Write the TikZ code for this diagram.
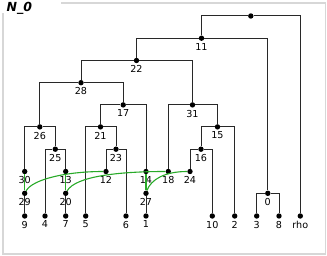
\documentclass[tikz,border=0pt]{standalone}
\usepackage{fontspec}
\setmainfont{DejaVu Sans}
\usetikzlibrary{positioning}

\definecolor{hybgreen}{RGB}{40,170,40}
\definecolor{framegray}{RGB}{215,215,215}
\definecolor{edgegray}{RGB}{40,40,40}

\begin{document}
\begin{tikzpicture}[x=1pt, y=-1pt,
  vtx/.style={circle, fill=black, inner sep=0pt, minimum size=5.4pt},
  every label/.style={font=\fontsize{9.6}{10}\selectfont, inner sep=0.3pt},
  label distance=1.6pt,
  edge/.style={draw=edgegray, line width=1pt},
  hyb/.style={draw=hybgreen, line width=1.1pt}]
\useasboundingbox (0,0) rectangle (327,256);
% frame and title
\draw[framegray, line width=1.6pt] (61,3) -- (325.5,3) -- (325.5,254) -- (3,254) -- (3,13);
\node[anchor=north west, inner sep=0pt, font=\fontsize{12.5}{12.5}\selectfont\bfseries\itshape] (title) at (6.5,2.5) {N\_0};
% internal nodes
\node[vtx] (root) at (250.8,16) {};
\node[vtx, label=below:11] (n11) at (201.5,38.2) {};
\node[vtx, label=below:22] (n22) at (136.5,60.5) {};
\node[vtx, label=below:28] (n28) at (81,82.7) {};
\node[vtx, label=below:17] (n17) at (123.2,104.9) {};
\node[vtx, label=below:31] (n31) at (192.5,104.9) {};
\node[vtx, label=below:26] (n26) at (39.8,126.9) {};
\node[vtx, label=below:21] (n21) at (100.5,126.9) {};
\node[vtx, label=below:15] (n15) at (217.5,126.9) {};
\node[vtx, label=below:25] (n25) at (55.3,149.2) {};
\node[vtx, label=below:23] (n23) at (116,149.2) {};
\node[vtx, label=below:16] (n16) at (201,149.2) {};
\node[vtx, label=below:30] (n30) at (24.7,171.5) {};
\node[vtx, label=below:13] (n13) at (65.7,171.5) {};
\node[vtx, label=below:12] (n12) at (106,171.5) {};
\node[vtx, label=below:14] (n14) at (146,171.5) {};
\node[vtx, label=below:18] (n18) at (168.3,171.5) {};
\node[vtx, label=below:24] (n24) at (190,171.5) {};
\node[vtx, label=below:29] (n29) at (24.7,193.3) {};
\node[vtx, label=below:20] (n20) at (65.7,193.3) {};
\node[vtx, label=below:27] (n27) at (146,193.3) {};
\node[vtx, label=below:0] (n0) at (267.8,193.3) {};
% leaves
\node[vtx, label=below:9] (l9) at (24.7,216) {};
\node[vtx, label=below:4] (l4) at (45,216) {};
\node[vtx, label=below:7] (l7) at (65.7,216) {};
\node[vtx, label=below:5] (l5) at (85.7,216) {};
\node[vtx, label=below:6] (l6) at (126,216) {};
\node[vtx, label=below:1] (l1) at (146,216) {};
\node[vtx, label=below:10] (l10) at (212.3,216) {};
\node[vtx, label=below:2] (l2) at (234.7,216) {};
\node[vtx, label=below:3] (l3) at (256.7,216) {};
\node[vtx, label=below:8] (l8) at (279,216) {};
\node[vtx, label=below:rho] (lrho) at (300.3,216) {};
% tree edges
\foreach \p/\c in {root/n11, root/lrho, n11/n22, n11/n0, n22/n28, n22/n31,
    n28/n26, n28/n17, n26/n30, n26/n25, n25/l4, n25/n13, n17/n21, n17/n14,
    n21/l5, n21/n23, n23/n12, n23/l6, n31/n18, n31/n15, n15/n16, n15/l2,
    n16/n24, n16/l10, n0/l3, n0/l8}
  \draw[edge] (\p) -| (\c);
\draw[edge] (n29) -- (l9);
\draw[edge] (n20) -- (l7);
\draw[edge] (n27) -- (l1);
% hybrid edges
\draw[hyb] (n30) -- (n29);
\draw[hyb] (n13) -- (n20);
\draw[hyb] (n14) -- (n27);
\draw[hyb] (n29) .. controls +(8,-14) and +(-40,0) .. (n12);
\draw[hyb] (n20) .. controls +(10,-17) and +(-50,0) .. (n18);
\draw[hyb] (n27) .. controls +(5,-14) and +(-25,0) .. (n24);
\end{tikzpicture}
\end{document}
